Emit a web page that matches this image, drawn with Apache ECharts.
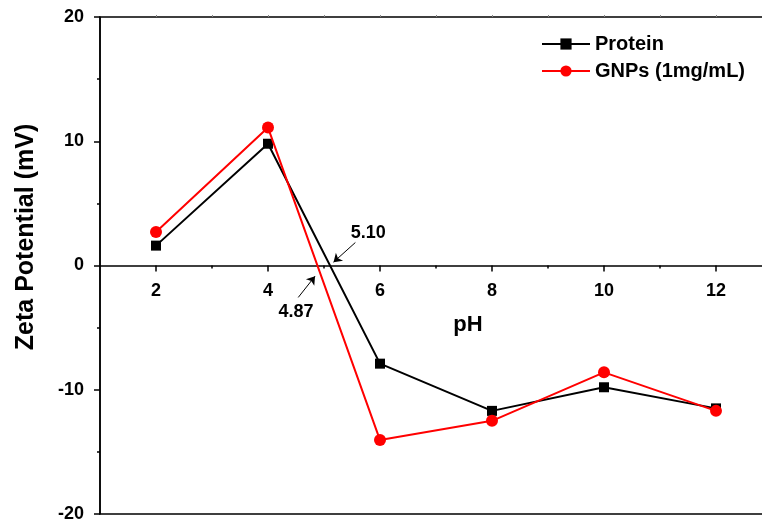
<!DOCTYPE html>
<html>
<head>
<meta charset="utf-8">
<script src="https://cdn.jsdelivr.net/npm/echarts@6/dist/echarts.min.js"></script>
<style>
  html, body { margin: 0; padding: 0; background: #fff; }
  #chart { width: 762px; height: 519px; }
</style>
</head>
<body>
<div id="chart"></div>
<script>
// pH values and zeta potentials (mV)
const phValues = [2, 4, 6, 8, 10, 12];
const proteinZeta = [1.6, 9.8, -7.9, -11.7, -9.8, -11.5];
const gnpZeta = [2.7, 11.1, -14.05, -12.5, -8.6, -11.7];

const majorTicksX = [2, 4, 6, 8, 10, 12];
const minorTicksX = [3, 5, 7, 9, 11];
const topTicksX = [2, 3, 4, 5, 6, 7, 8, 9, 10, 11, 12];

// isoelectric point call-outs: [label, label position, arrow start, arrow tip]
const pointLabels = [
  { text: '5.10', at: [5.79, 2.65], from: [5.56, 1.85], to: [5.17, 0.27] },
  { text: '4.87', at: [4.50, -3.78], from: [4.54, -2.57], to: [4.84, -0.86] }
];

const FONT = 'Liberation Sans, Arial, sans-serif';
const W = 762, H = 519;
const GRID = { left: 100, right: -10, top: 17, bottom: 5 };
// the pH axis sits on y = 0, halfway up the symmetric -20..20 range
const zeroLift = -(H - GRID.top - GRID.bottom) / 2;

const chart = echarts.init(document.getElementById('chart'));
const pairs = (ys) => phValues.map((x, i) => [x, ys[i]]);

chart.setOption({
  animation: false,
  backgroundColor: '#fff',
  grid: Object.assign({
    outerBoundsMode: 'none',
    containLabel: false,
    show: true, borderColor: '#000', borderWidth: 1.5,
    backgroundColor: 'transparent'
  }, GRID),
  legend: {
    data: ['Protein', 'GNPs (1mg/mL)'],
    orient: 'vertical',
    left: 541, top: 34, padding: 0,
    itemWidth: 48, itemHeight: 14, itemGap: 7,
    textStyle: { fontFamily: FONT, fontWeight: 'bold', fontSize: 20, color: '#000', lineHeight: 20 }
  },
  xAxis: [
    {
      type: 'value', min: 1, max: 13,
      position: 'bottom', offset: zeroLift,
      axisLine: { onZero: false, lineStyle: { color: '#000', width: 1.5 } },
      axisTick: { customValues: majorTicksX, length: 6, lineStyle: { color: '#000', width: 1.5 } },
      axisLabel: {
        customValues: majorTicksX, margin: 17,
        fontFamily: FONT, fontWeight: 'bold', fontSize: 18, color: '#000'
      },
      splitLine: { show: false }
    },
    {
      type: 'value', min: 1, max: 13,
      position: 'bottom', offset: zeroLift,
      axisLine: { onZero: false, show: false },
      axisTick: { customValues: minorTicksX, length: 3, lineStyle: { color: '#000', width: 1.5 } },
      axisLabel: { show: false },
      splitLine: { show: false }
    },
    {
      type: 'value', min: 1, max: 13,
      position: 'top',
      axisLine: { onZero: false, show: false },
      axisTick: { customValues: topTicksX, length: 2, lineStyle: { color: '#888', width: 1 } },
      axisLabel: { show: false },
      splitLine: { show: false }
    }
  ],
  yAxis: {
    type: 'value', min: -20, max: 20, interval: 10,
    axisLine: { show: true, onZero: false, lineStyle: { color: '#000', width: 1.5 } },
    axisTick: { show: true, length: 6, lineStyle: { color: '#000', width: 1.5 } },
    minorTick: { show: true, splitNumber: 2, length: 3, lineStyle: { color: '#000', width: 1.5 } },
    axisLabel: { margin: 16, fontFamily: FONT, fontWeight: 'bold', fontSize: 18, color: '#000' },
    splitLine: { show: false }
  },
  graphic: [
    {
      type: 'text', x: 26, y: 237, rotation: Math.PI / 2,
      style: {
        text: 'Zeta Potential (mV)', font: 'bold 25px ' + FONT, fill: '#000',
        align: 'center', verticalAlign: 'middle'
      }
    },
    {
      type: 'text', x: 468, y: 325,
      style: {
        text: 'pH', font: 'bold 22px ' + FONT, fill: '#000',
        align: 'center', verticalAlign: 'middle'
      }
    }
  ],
  series: [
    {
      name: 'Protein', type: 'line', data: pairs(proteinZeta),
      symbol: 'rect', symbolSize: 10,
      lineStyle: { color: '#000', width: 2 },
      itemStyle: { color: '#000' },
      z: 3
    },
    {
      name: 'GNPs (1mg/mL)', type: 'line', data: pairs(gnpZeta),
      symbol: 'circle', symbolSize: 12,
      lineStyle: { color: '#ff0000', width: 2 },
      itemStyle: { color: '#ff0000' },
      z: 4
    },
    {
      name: 'callouts', type: 'line', data: [],
      silent: true,
      markLine: {
        silent: true, animation: false,
        symbol: ['none', 'arrow'], symbolSize: 8,
        lineStyle: { color: '#000', width: 1, type: 'solid' },
        label: { show: false },
        data: pointLabels.map(p => [{ coord: p.from }, { coord: p.to }])
      },
      markPoint: {
        silent: true, animation: false,
        symbol: 'circle', symbolSize: 0,
        label: {
          show: true, position: 'inside',
          fontFamily: FONT, fontWeight: 'bold', fontSize: 18, color: '#000',
          formatter: (d) => d.name
        },
        data: pointLabels.map(p => ({ name: p.text, coord: p.at }))
      }
    }
  ]
});
</script>
</body>
</html>
